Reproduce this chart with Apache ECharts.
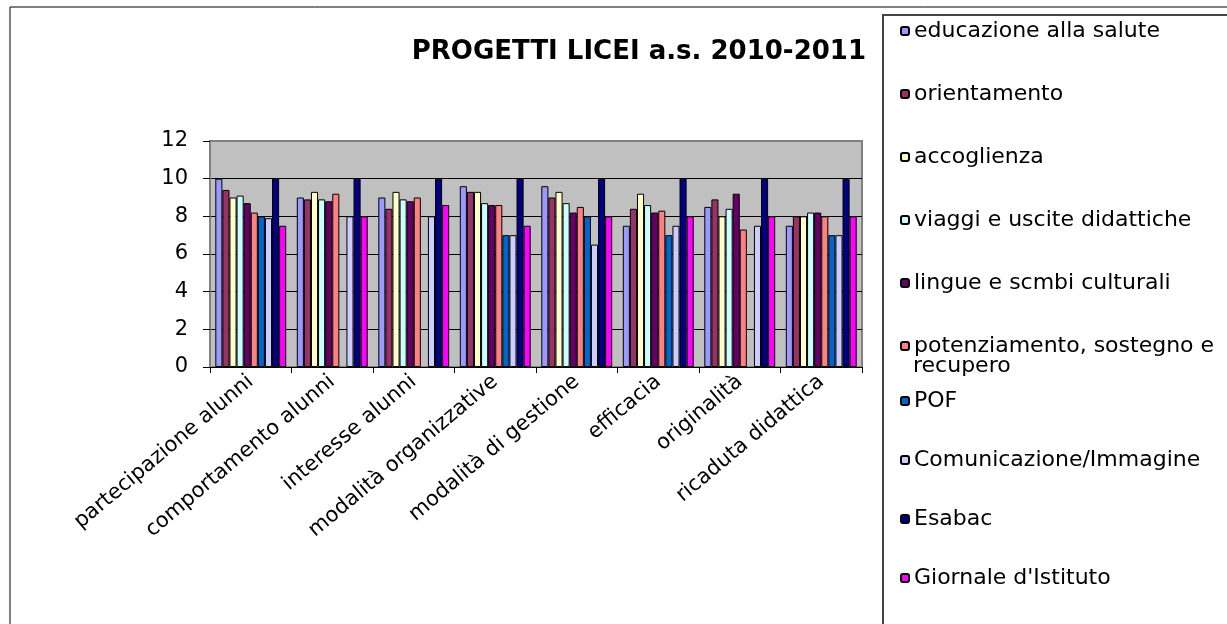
<!DOCTYPE html>
<html>
<head>
<meta charset="utf-8">
<title>PROGETTI LICEI a.s. 2010-2011</title>
<script src="https://cdn.jsdelivr.net/npm/echarts@6/dist/echarts.min.js"></script>
<style>
html, body { margin: 0; padding: 0; background: #fff; }
#chart { width: 1227px; height: 624px; }
</style>
</head>
<body>
<div id="chart"></div>
<script>
// categorie (asse x)
const categories = [
    'partecipazione alunni', 'comportamento alunni', 'interesse alunni',
    'modalità organizzative', 'modalità di gestione', 'efficacia',
    'originalità', 'ricaduta didattica'
];

// valori, uno per progetto
const educazione = [10, 9.0, 9.0, 9.6, 9.6, 7.5, 8.5, 7.5];
const orientamento = [9.4, 8.9, 8.4, 9.3, 9.0, 8.4, 8.9, 8.0];
const accoglienza = [9.0, 9.3, 9.3, 9.3, 9.3, 9.2, 8.0, 8.0];
const viaggi = [9.1, 8.9, 8.9, 8.7, 8.7, 8.6, 8.4, 8.2];
const lingue = [8.7, 8.8, 8.8, 8.6, 8.2, 8.2, 9.2, 8.2];
const potenziamento = [8.2, 9.2, 9.0, 8.6, 8.5, 8.3, 7.3, 8.0];
const pof = [8.0, null, null, 7.0, 8.0, 7.0, null, 7.0];
const comunicazione = [7.9, 8.0, 8.0, 7.0, 6.5, 7.5, 7.5, 7.0];
const esabac = [10, 10, 10, 10, 10, 10, 10, 10];
const giornale = [7.5, 8.0, 8.6, 7.5, 8.0, 8.0, 8.0, 8.0];

const seriesNames = [
    'educazione alla salute', 'orientamento', 'accoglienza',
    'viaggi e uscite didattiche', 'lingue e scmbi culturali',
    'potenziamento, sostegno e recupero', 'POF', 'Comunicazione/Immagine',
    'Esabac', "Giornale d'Istituto"
];
const seriesValues = [
    educazione, orientamento, accoglienza, viaggi, lingue,
    potenziamento, pof, comunicazione, esabac, giornale
];
const seriesColors = [
    '#9999ff', '#993366', '#ffffcc', '#ccffff', '#660066',
    '#ff8080', '#0066cc', '#ccccff', '#000080', '#ff00ff'
];

const yMin = 0;
const yMax = 12;
const yStep = 2;

const FONT = 'DejaVu Sans';

const chart = echarts.init(document.getElementById('chart'));

const series = seriesNames.map((name, i) => ({
    name: name,
    type: 'bar',
    data: seriesValues[i],
    barGap: '0%',
    barCategoryGap: '13%',
    itemStyle: {
        color: seriesColors[i],
        borderColor: '#000',
        borderWidth: 1
    },
    emphasis: { disabled: true }
}));

const legendText = {
    fontFamily: FONT,
    fontSize: 22,
    lineHeight: 24,
    color: '#000'
};

const option = {
    animation: false,
    backgroundColor: '#fff',
    title: {
        text: 'PROGETTI LICEI a.s. 2010-2011',
        right: 361,
        top: 39,
        padding: 0,
        textStyle: {
            fontFamily: FONT,
            fontSize: 26,
            fontWeight: 'bold',
            color: '#000'
        }
    },
    legend: [{
        orient: 'vertical',
        left: 900,
        top: 19,
        padding: 0,
        itemWidth: 8,
        itemHeight: 8,
        itemGap: 39,
        selectedMode: false,
        data: seriesNames.slice(0, 6),
        formatter: name => name === 'potenziamento, sostegno e recupero' ? 'potenziamento, sostegno e' : name,
        textStyle: legendText
    }, {
        orient: 'vertical',
        left: 900,
        top: 389,
        padding: 0,
        itemWidth: 8,
        itemHeight: 8,
        itemGap: 35,
        selectedMode: false,
        data: seriesNames.slice(6),
        textStyle: legendText
    }],
    grid: {
        left: 210,
        right: 365,
        top: 141,
        bottom: 257,
        show: true,
        backgroundColor: '#c0c0c0',
        borderColor: '#808080',
        borderWidth: 2
    },
    xAxis: {
        type: 'category',
        data: categories,
        axisLine: { lineStyle: { color: '#000', width: 1 } },
        axisTick: { show: true, length: 6, lineStyle: { color: '#000' } },
        axisLabel: {
            interval: 0,
            rotate: 40,
            margin: 12,
            fontFamily: FONT,
            fontSize: 21,
            color: '#000'
        }
    },
    yAxis: {
        type: 'value',
        min: yMin,
        max: yMax,
        interval: yStep,
        axisLine: { show: true, lineStyle: { color: '#808080', width: 2 } },
        axisTick: { show: true, length: 7, lineStyle: { color: '#000' } },
        axisLabel: {
            margin: 22,
            fontFamily: FONT,
            fontSize: 21,
            color: '#000'
        },
        splitLine: {
            show: true,
            lineStyle: {
                color: ['#000', '#000', '#000', '#000', '#000', '#000', '#808080'],
                width: 1
            }
        }
    },
    graphic: [
        {
            type: 'rect',
            z: -10,
            shape: { x: 10, y: 7, width: 1300, height: 700 },
            style: { fill: 'none', stroke: '#000', lineWidth: 1 }
        },
        {
            type: 'rect',
            shape: { x: 883, y: 15, width: 400, height: 700 },
            style: { fill: 'none', stroke: '#444', lineWidth: 2 }
        },
        {
            type: 'text',
            left: 913,
            top: 355,
            style: {
                text: 'recupero',
                font: '22px "DejaVu Sans"',
                fill: '#000'
            }
        }
    ],
    series: series
};

chart.setOption(option);
</script>
</body>
</html>
